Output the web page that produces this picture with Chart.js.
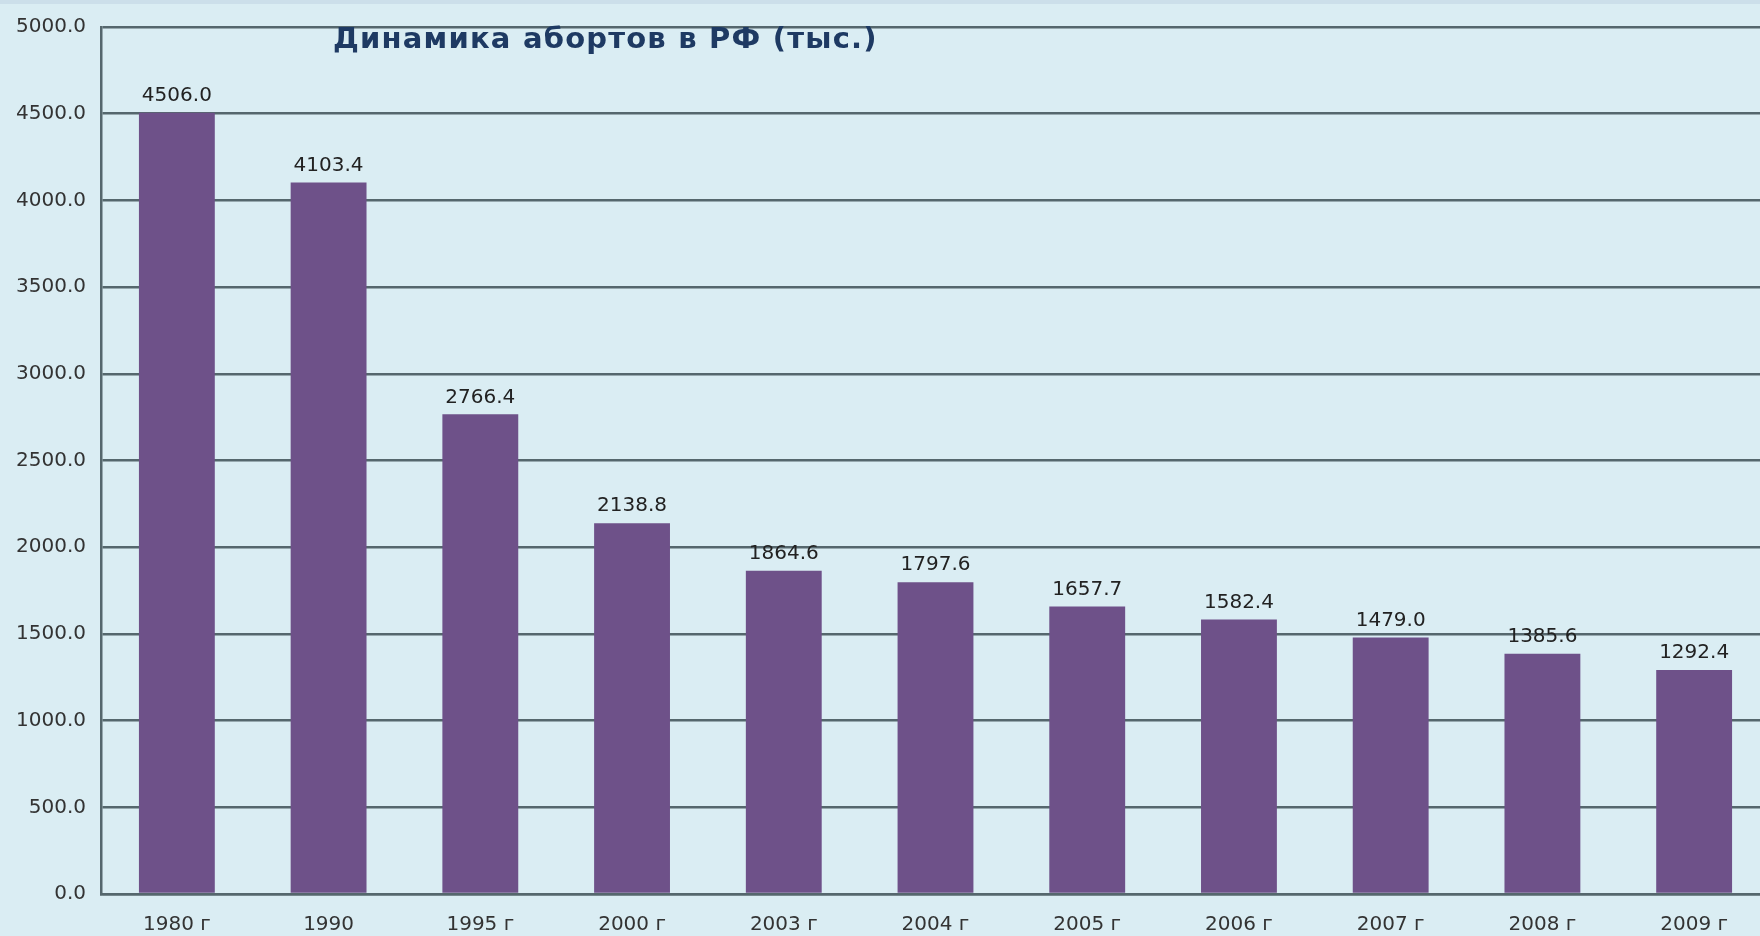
<!DOCTYPE html>
<html>
<head>
<meta charset="utf-8">
<script src="https://cdn.jsdelivr.net/npm/chart.js@4.4.1/dist/chart.umd.min.js"></script>
<style>
  html, body { margin: 0; padding: 0; overflow: hidden; background: #DAEDF3; }
  #wrap { position: relative; width: 1770px; height: 936px; }
  #topband { position: absolute; left: 0; top: 0; width: 1770px; height: 4px; background: #CCDFEA; }
  #title { position: absolute; left: 333px; top: 24px; font-family: "DejaVu Sans", sans-serif; font-weight: bold;
           font-size: 29px; line-height: 29px; letter-spacing: 1.2px; color: #1E3A63; white-space: nowrap; z-index: 2; }
  canvas { position: absolute; left: 0; top: 0; }
</style>
</head>
<body>
<div id="wrap">
  <div id="topband"></div>
  <div id="title">Динамика абортов в РФ (тыс.)</div>
  <canvas id="c" width="1770" height="936"></canvas>
</div>
<script>
const categories = ["1980 г", "1990", "1995 г", "2000 г", "2003 г", "2004 г", "2005 г", "2006 г", "2007 г", "2008 г", "2009 г"];
const abortions = [4506.0, 4103.4, 2766.4, 2138.8, 1864.6, 1797.6, 1657.7, 1582.4, 1479.0, 1385.6, 1292.4];
const yMin = 0, yMax = 5000, yStep = 500;

const valueLabels = {
  id: 'valueLabels',
  afterDatasetsDraw(chart) {
    const ctx = chart.ctx;
    const meta = chart.getDatasetMeta(0);
    ctx.save();
    ctx.font = '20px "DejaVu Sans", sans-serif';
    ctx.fillStyle = '#222';
    ctx.textAlign = 'center';
    ctx.textBaseline = 'bottom';
    meta.data.forEach((bar, i) => {
      ctx.fillText(abortions[i].toFixed(1), bar.x, bar.y - 7);
    });
    ctx.restore();
  }
};

new Chart(document.getElementById('c'), {
  type: 'bar',
  data: {
    labels: categories,
    datasets: [{
      data: abortions,
      backgroundColor: '#6E5189',
      borderWidth: 0,
      barPercentage: 0.5,
      categoryPercentage: 1.0
    }]
  },
  options: {
    responsive: false,
    animation: false,
    events: [],
    layout: { padding: { top: 10, right: 0, left: 0, bottom: 0 } },
    plugins: { legend: { display: false }, tooltip: { enabled: false }, title: { display: false } },
    scales: {
      x: {
        grid: { display: false, drawTicks: false },
        border: { display: true, color: '#55676D', width: 2.5 },
        ticks: { color: '#333', font: { family: 'DejaVu Sans', size: 20 }, padding: 19, maxRotation: 0, autoSkip: false },
        afterFit(s) { s.height = 42; }
      },
      y: {
        min: yMin, max: yMax,
        grid: { color: '#55676D', lineWidth: 2.5, drawTicks: false },
        border: { display: true, color: '#55676D', width: 2.5 },
        ticks: {
          stepSize: yStep, padding: 15, color: '#333',
          font: { family: 'DejaVu Sans', size: 20 },
          callback: v => Number(v).toFixed(1)
        },
        afterFit(s) { s.width = 101; }
      }
    }
  },
  plugins: [valueLabels]
});
</script>
</body>
</html>
